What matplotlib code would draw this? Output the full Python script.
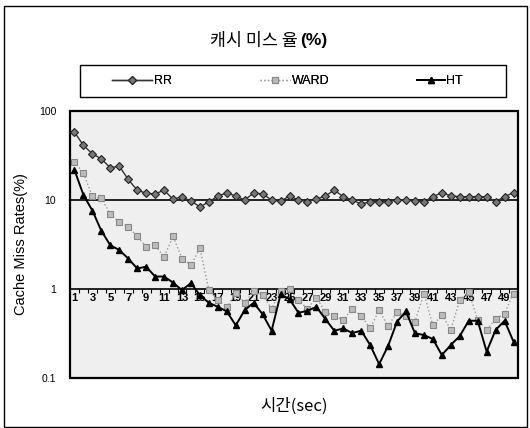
import matplotlib
matplotlib.use("Agg")
import matplotlib.pyplot as plt
from matplotlib.patches import Rectangle
import numpy as np

plt.rcParams['font.family'] = ['Liberation Sans', 'Noto Sans CJK KR', 'DejaVu Sans']

seconds = list(range(1, 51))
rr = [58, 41, 33, 29, 23, 24, 17, 12.9, 11.9, 11.7,
      12.9, 10.2, 10.9, 9.7, 8.4, 9.5, 11.1, 12.0, 11.1, 10.0,
      12.0, 11.7, 10.0, 9.7, 11.1, 10.0, 9.6, 10.2, 11.1, 12.9,
      10.9, 10.0, 9.0, 9.6, 9.6, 9.6, 10.0, 10.0, 9.8, 9.6,
      10.9, 12.1, 11.1, 10.9, 10.9, 10.9, 10.9, 9.6, 10.9, 12.1]
ward = [27, 20, 11, 10.4, 7.0, 5.6, 5.0, 3.9, 3.0, 3.1,
        2.3, 3.9, 2.2, 1.85, 2.87, 0.97, 0.75, 0.62, 0.9, 0.7,
        0.95, 0.85, 0.6, 0.95, 1.0, 0.75, 0.6, 0.8, 0.55, 0.5,
        0.45, 0.6, 0.5, 0.36, 0.58, 0.38, 0.55, 0.5, 0.43, 0.89,
        0.39, 0.51, 0.35, 0.75, 0.93, 0.45, 0.35, 0.46, 0.53, 0.89]
ht = [21.7, 11.4, 7.6, 4.5, 3.1, 2.74, 2.2, 1.7, 1.78, 1.38,
      1.38, 1.18, 0.97, 1.17, 0.85, 0.7, 0.63, 0.56, 0.39, 0.58,
      0.7, 0.52, 0.34, 0.87, 0.77, 0.54, 0.57, 0.63, 0.46, 0.34,
      0.36, 0.32, 0.34, 0.235, 0.143, 0.229, 0.43, 0.56, 0.318, 0.304,
      0.274, 0.181, 0.235, 0.296, 0.44, 0.44, 0.198, 0.346, 0.44, 0.256]
series_names = ['RR', 'WARD', 'HT']
yticks = [0.1, 1, 10, 100]
ytick_labels = ['0.1', '1', '10', '100']

W, H = 530, 428
fig = plt.figure(figsize=(W / 100, H / 100), dpi=100)

# outer chart border
fig.add_artist(Rectangle((4 / W, 1 / H), 523 / W, 421 / H, transform=fig.transFigure,
                         fill=False, edgecolor='black', linewidth=1.0))

ax = fig.add_axes([70 / W, 50 / H, 448 / W, 267 / H])
ax.set_facecolor('#efefef')
ax.set_yscale('log')
ax.set_ylim(0.1, 100)
ax.set_xlim(0.5, 50.5)

for s in ['top', 'right', 'left']:
    ax.spines[s].set_visible(False)
ax.spines['bottom'].set_position(('data', 1))
ax.spines['bottom'].set_linewidth(1.2)
ax.add_patch(Rectangle((0, 0), 1, 1, transform=ax.transAxes, fill=False,
                       edgecolor='black', linewidth=1.6, zorder=5, clip_on=False))
ax.axhline(10, color='black', linewidth=1.2, zorder=1)

ax.set_yticks(yticks)
ax.set_yticklabels(ytick_labels, fontsize=7.5)
ax.yaxis.set_minor_locator(matplotlib.ticker.NullLocator())
ax.tick_params(axis='y', length=0, pad=10)

ax.set_xticks(seconds)
ax.set_xticklabels([str(s) if s % 2 == 1 else '' for s in seconds],
                   fontsize=8, fontweight='bold')
ax.set_xticks([s + 0.5 for s in seconds[:-1]], minor=True)
ax.tick_params(axis='x', which='major', length=0, pad=3)
ax.tick_params(axis='x', which='minor', length=3, direction='out', width=0.8)

l1, = ax.plot(seconds, rr, color='#333333', linewidth=1.0, marker='D', markersize=4.2,
              markerfacecolor='#777777', markeredgecolor='#222222', markeredgewidth=0.8,
              zorder=4)
l2, = ax.plot(seconds, ward, color='#9a9a9a', linewidth=1.0, linestyle=':', marker='s',
              markersize=4, markerfacecolor='#bbbbbb', markeredgecolor='#888888',
              markeredgewidth=0.8, zorder=3)
l3, = ax.plot(seconds, ht, color='black', linewidth=1.4, marker='^', markersize=5,
              markerfacecolor='black', markeredgecolor='black', zorder=4)

ax.set_ylabel('Cache Miss Rates(%)', fontsize=10.5, labelpad=8)
ax.set_xlabel('시간(sec)', fontsize=12, family=['Noto Sans CJK KR', 'DejaVu Sans'])
ax.xaxis.set_label_coords((294 - 70) / 448, -(398 - 378) / 267)

fig.text(298 / W, 1 - 41 / H, '캐시 미스 율', fontsize=12.5, ha='right', va='center',
         family=['Noto Sans CJK KR', 'DejaVu Sans'])
fig.text(300 / W, 1 - 41 / H, '(%)', fontsize=12.5, ha='left', va='center',
         fontweight='bold', family=['Liberation Sans', 'DejaVu Sans'])

# legend box
fig.add_artist(Rectangle((80 / W, 1 - 97 / H), 426 / W, 32 / H, transform=fig.transFigure,
                         fill=False, edgecolor='black', linewidth=1.0))
entries = [(l1, series_names[0], 112, 3.2), (l2, series_names[1], 260, 2.4),
           (l3, series_names[2], 417, 2.2)]
for handle, name, xstart, hl in entries:
    lg = fig.legend([handle], [name], loc='center left',
                    bbox_to_anchor=(xstart / W, 1 - 81 / H), frameon=False, fontsize=9,
                    handlelength=hl, handletextpad=0.15, borderpad=0, borderaxespad=0)
    fig.add_artist(lg)

fig.savefig('out.png', dpi=100)
